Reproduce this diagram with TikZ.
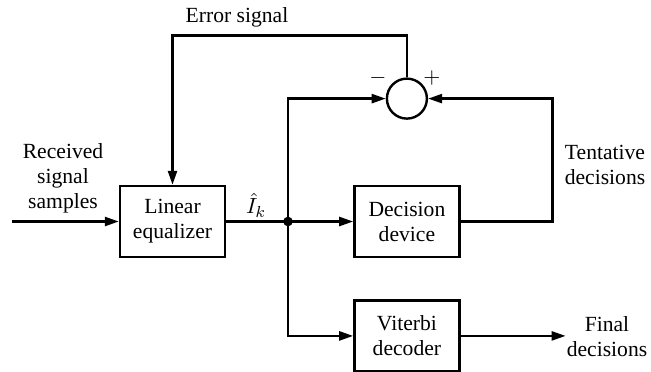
\documentclass[tikz,border=0pt]{standalone}
\usepackage{amsmath}
\usepackage{fontspec}
\setmainfont{Liberation Serif}
\usepackage{tikz}
\usetikzlibrary{arrows.meta, positioning}

\begin{document}
\begin{tikzpicture}[
    x=0.5pt, y=-0.5pt,
    font=\fontsize{10.8}{12.5}\selectfont,
    block/.style={draw, line width=1.2pt, align=center, inner sep=0pt,
        minimum width=52.5pt, minimum height=35.5pt},
    summer/.style={draw, circle, line width=1.2pt, inner sep=0pt, minimum size=20pt},
    wire/.style={line width=1.2pt},
    flow/.style={wire, -{Triangle[length=7pt, width=4.5pt]}},
    lbl/.style={align=center, inner sep=0pt}
]
\useasboundingbox (0,0) rectangle (651,371);

% main blocks
\node[block] (equalizer) at (172.5,221.5) {Linear\\equalizer};
\node[block, right=63.5pt of equalizer] (decision) {Decision\\device};
\node[block, below=20.5pt of decision] (viterbi) {Viterbi\\decoder};
\node[summer, above=32.5pt of decision] (sum) {};

% branch point and free ends
\coordinate (input) at (12,221.5);
\coordinate (tap) at (288,221.5);
\coordinate[right=46pt of decision.east] (tentturn);
\coordinate[above=21pt of sum.north] (errtop);
\coordinate[right=52.5pt of viterbi.east] (output);

% signal path
\draw[flow] (input) -- (equalizer);
\draw[wire] (equalizer) -- (tap);
\fill (tap) circle (2.4pt);
\draw[flow] (tap) -- (decision);
\draw[flow] (tap) |- (sum.west);
\draw[flow] (tap) |- (viterbi.west);
\draw[flow] (decision.east) -- (tentturn) |- (sum.east);
\draw[flow] (viterbi) -- (output);

% error feedback
\draw[flow] (sum.north) -- (errtop) -| (equalizer.north);

% labels
\node[lbl] (errlabel) at (237,17) {Error signal};
\node[lbl] (inlabel) at (63,178) {Received\\signal\\samples};
\node[lbl] (ihat) at (256,205) {$\hat{I}_k$};
\node[lbl] (minus) at (378,78) {$-$};
\node[lbl] (plus) at (432,78) {$+$};
\node[lbl] (tentlabel) at (605,165) {Tentative\\decisions};
\node[lbl] (finallabel) at (607,337) {Final\\decisions};
\end{tikzpicture}
\end{document}
